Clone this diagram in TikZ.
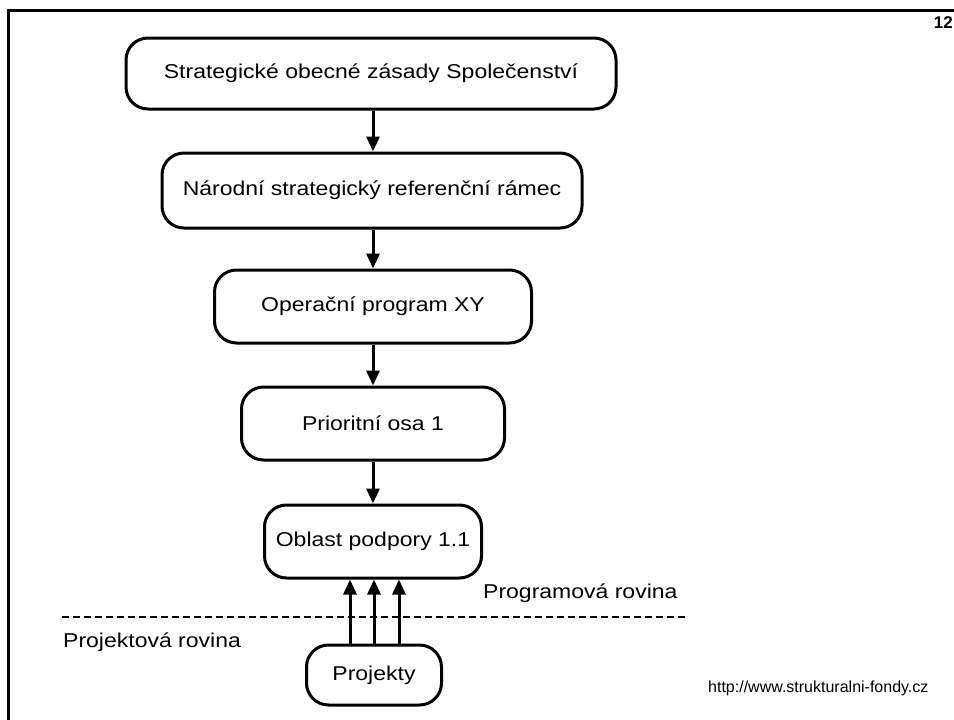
\documentclass[tikz,border=0pt]{standalone}
\usepackage{fontspec}
\setmainfont{Liberation Sans}
\newfontfamily\diagfont[FakeStretch=1.15]{Liberation Sans}
\usetikzlibrary{arrows.meta}
\tikzset{
  box/.style={draw, line width=3pt, rounded corners=22pt, inner sep=0pt,
    font=\diagfont\fontsize{20}{24}\selectfont},
  arr/.style={line width=3pt, -{Triangle[length=15pt,width=13pt]}},
  lbl/.style={inner sep=0pt, font=\diagfont\fontsize{20}{24}\selectfont},
}
\begin{document}
\begin{tikzpicture}[x=1pt,y=-1pt]
\useasboundingbox (0,0) rectangle (954,720);
\fill[white] (0,0) rectangle (954,720);
% slide frame
\draw[line width=3pt] (8,720) -- (8,10) -- (960,10);
\node[anchor=east, inner sep=0pt, font=\bfseries\fontsize{17}{20}\selectfont] (pg) at (953,23) {12};
% boxes
\node[box, minimum width=490pt, minimum height=71pt] (s1) at (371,73.5) {Strategické obecné zásady Společenství};
\node[box, minimum width=420pt, minimum height=75pt] (s2) at (372,190.5) {Národní strategický referenční rámec};
\node[box, minimum width=317pt, minimum height=73pt] (s3) at (373,306.5) {Operační program XY};
\node[box, minimum width=263pt, minimum height=73pt] (s4) at (373,423.5) {Prioritní osa 1};
\node[box, minimum width=217pt, minimum height=73pt] (s5) at (373,541.5) {Oblast podpory 1.1};
\node[box, minimum width=135pt, minimum height=60pt] (s6) at (374,675) {Projekty};
% arrows down (vertical, on the common axis)
\draw[arr] (s1.south -| s5.center) -- (s2.north -| s5.center);
\draw[arr] (s2.south -| s5.center) -- (s3.north -| s5.center);
\draw[arr] (s3.south) -- (s4.north);
\draw[arr] (s4.south) -- (s5.north);
% arrows up
\draw[arr] ([xshift=-24pt]s6.north) -- ([xshift=-24pt]s5.south -| s6.center);
\draw[arr] (s6.north) -- (s5.south -| s6.center);
\draw[arr] ([xshift=25pt]s6.north) -- ([xshift=25pt]s5.south -| s6.center);
% dashed separator
\coordinate (dl) at (62,617);
\coordinate (dr) at (685,617);
\draw[line width=2pt, dash pattern=on 7pt off 4pt] (dl) -- (dr);
\node[lbl, anchor=west] (prog) at (483,593) {Programová rovina};
\node[lbl, anchor=west] (proj) at (63,642) {Projektová rovina};
% source
\node[anchor=west, inner sep=0pt, font=\fontsize{16}{19}\selectfont] (url) at (708,688) {http://www.strukturalni-fondy.cz};
\end{tikzpicture}
\end{document}
